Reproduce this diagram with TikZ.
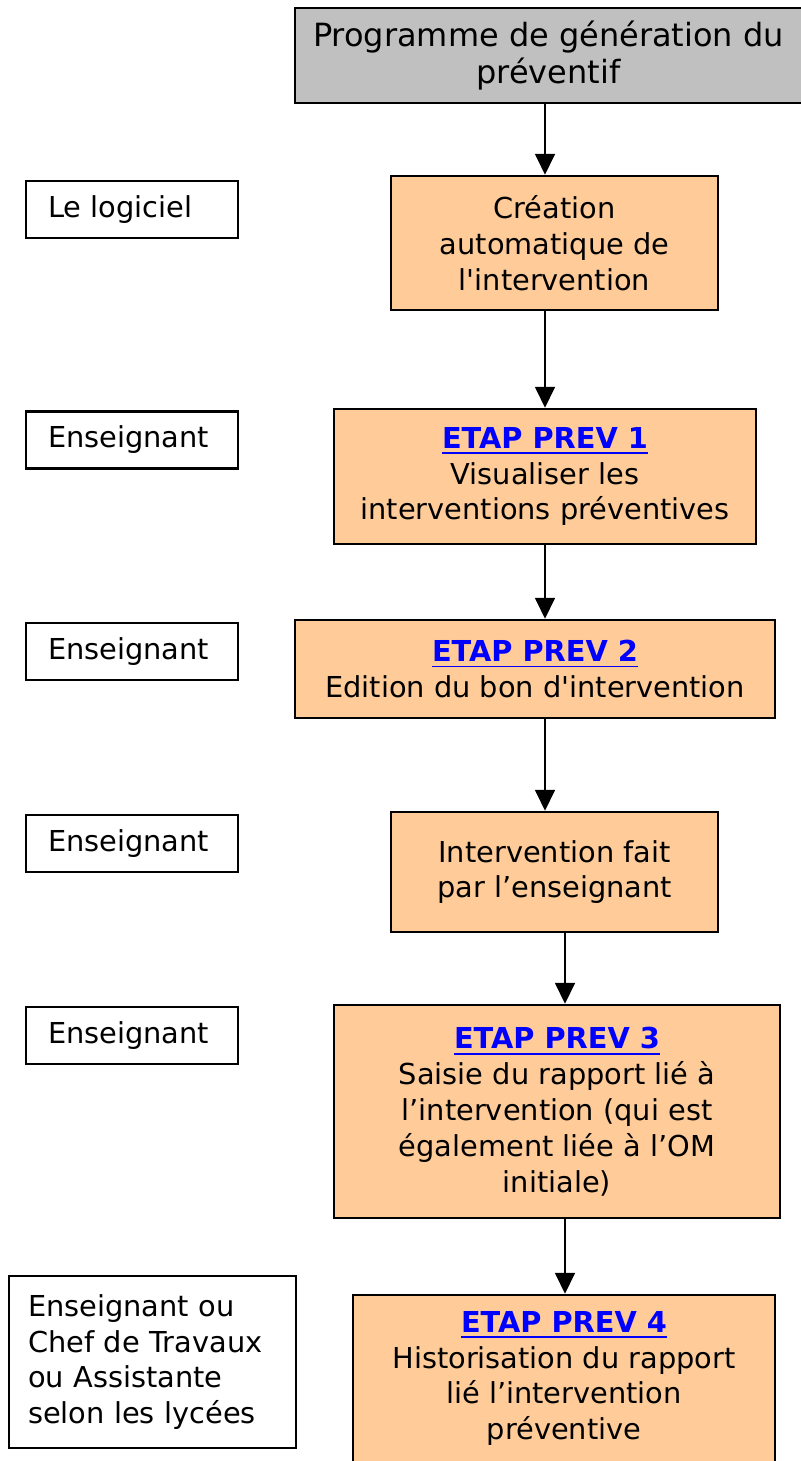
\documentclass[tikz,border=0pt]{standalone}
\usepackage{fontspec}
\setmainfont{DejaVu Sans}[Ligatures=TeXOff]
\definecolor{boxorange}{RGB}{255, 204, 153}
\definecolor{boxgray}{RGB}{192, 192, 192}
\definecolor{linkblue}{RGB}{0, 0, 255}
\usepackage{tikz}
\usetikzlibrary{arrows.meta, positioning, calc}

\newcommand{\etaphead}[1]{{\bfseries\color{linkblue}\underline{#1}}}

\begin{document}
\begin{tikzpicture}[
  box/.style={draw, line width=0.7pt, fill=boxorange, align=center, font=\fontsize{8.2}{10.2}\selectfont, inner sep=0pt},
  who/.style={draw, line width=0.7pt, fill=white, align=left, font=\fontsize{8.2}{10.2}\selectfont, minimum width=2.12cm, minimum height=0.57cm, text width=1.68cm, inner xsep=0.22cm, inner ysep=0pt},
  arr/.style={-{Triangle[width=0.2cm, length=0.21cm]}, line width=0.5pt}
]
  \useasboundingbox (0,0) rectangle (8.01,-14.61);

  % Steps of the flow
  \node[box, fill=boxgray, font=\fontsize{9.1}{10.4}\selectfont, minimum width=5.07cm, minimum height=0.95cm] (prog) at (5.485, -0.555) {Programme de génération du\\préventif};
  \node[box, minimum width=3.27cm, minimum height=1.34cm] (crea) at (5.545, -2.43) {Création\\automatique de\\l'intervention};
  \node[box, minimum width=4.22cm, minimum height=1.35cm] (etap1) at (5.45, -4.765) {\etaphead{ETAP PREV 1}\\Visualiser les\\interventions préventives};
  \node[box, minimum width=4.80cm, minimum height=0.98cm] (etap2) at (5.35, -6.69) {\etaphead{ETAP PREV 2}\\Edition du bon d'intervention};
  \node[box, minimum width=3.27cm, minimum height=1.20cm] (interv) at (5.545, -8.72) {Intervention fait\\par l’enseignant};
  \node[box, minimum width=4.46cm, minimum height=2.13cm] (etap3) at (5.57, -11.115) {\etaphead{ETAP PREV 3}\\Saisie du rapport lié à\\l’intervention (qui est\\également liée à l’OM\\initiale)};
  \node[box, minimum width=4.22cm, minimum height=1.67cm] (etap4) at (5.64, -13.785) {\etaphead{ETAP PREV 4}\\Historisation du rapport\\lié l’intervention\\préventive};

  % Who does it
  \node[who] (who0) at (1.32, -2.095) {Le logiciel};
  \node[who] (who1) at (1.32, -4.40) {Enseignant};
  \node[who] (who2) at (1.32, -6.515) {Enseignant};
  \node[who] (who3) at (1.32, -8.435) {Enseignant};
  \node[who] (who4) at (1.32, -10.355) {Enseignant};
  \node[who, minimum width=2.87cm, minimum height=1.72cm, text width=2.49cm, inner xsep=0.19cm] (who5) at (1.525, -13.62) {Enseignant ou\\Chef de Travaux\\ou Assistante\\selon les lycées};

  % Arrows between steps
  \coordinate (spine) at (5.45, 0);
  \coordinate (spinelow) at (5.65, 0);
  \draw[arr] (prog.south -| spine) -- (crea.north -| spine);
  \draw[arr] (crea.south -| spine) -- (etap1.north -| spine);
  \draw[arr] (etap1.south -| spine) -- (etap2.north -| spine);
  \draw[arr] (etap2.south -| spine) -- (interv.north -| spine);
  \draw[arr] (interv.south -| spinelow) -- (etap3.north -| spinelow);
  \draw[arr] (etap3.south -| spinelow) -- (etap4.north -| spinelow);
\end{tikzpicture}
\end{document}
